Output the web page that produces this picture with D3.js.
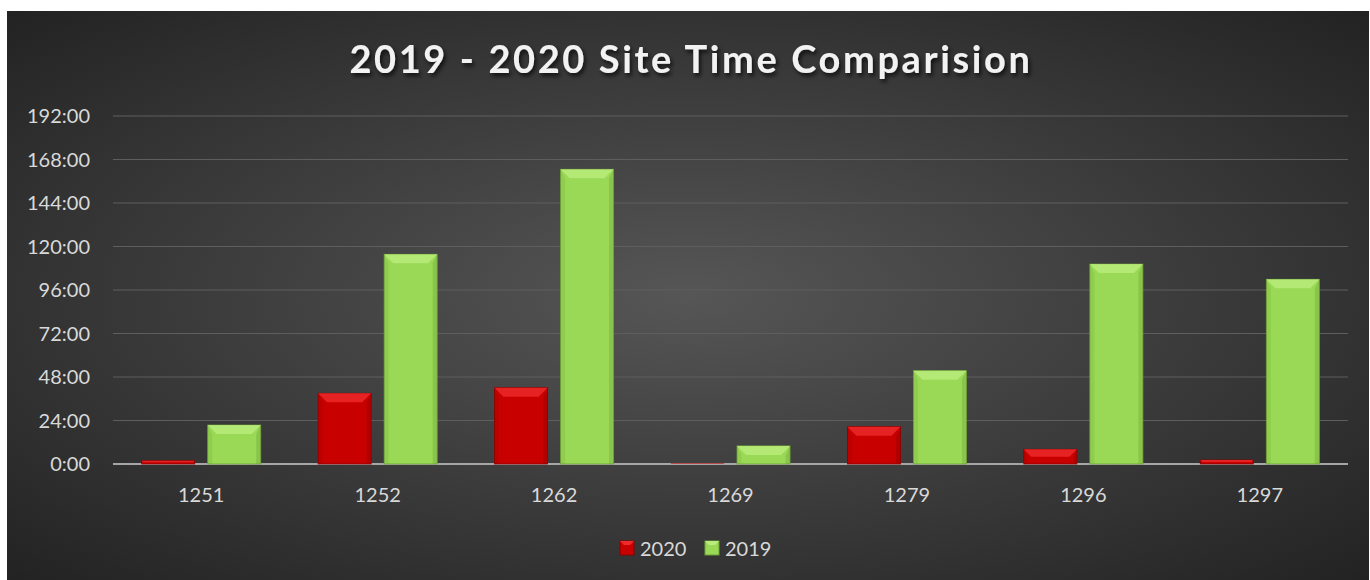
<!DOCTYPE html>
<html>
<head>
<meta charset="utf-8">
<script src="https://cdn.jsdelivr.net/npm/d3@7"></script>
<style>
	html, body { margin: 0; padding: 0; background: #fff; }
	svg { display: block; font-family: Lato, "Noto Sans", sans-serif; }
</style>
</head>
<body>
<svg width="1370" height="580"></svg>
<script>
// site ids and hours per year
const sites = ["1251", "1252", "1262", "1269", "1279", "1296", "1297"];
const hours2020 = [1.8, 39, 42.1, 0.5, 20.6, 8.1, 2.2];
const hours2019 = [21.5, 115.7, 162.6, 10, 51.5, 110.3, 101.9];
const series = ["2020", "2019"];
const yTicks = [0, 24, 48, 72, 96, 120, 144, 168, 192];

const colors = {
	"2020": { base: "#c80000", light: "#ef2a2a", dark: "#8a0000" },
	"2019": { base: "#99d955", light: "#b9ec7c", dark: "#6e9e38" }
};

const svg = d3.select("svg");
const W = 1370, H = 580;

const defs = svg.append("defs");

const bg = defs.append("radialGradient")
	.attr("id", "bg")
	.attr("cx", "50%").attr("cy", "50%").attr("r", "70%");
bg.append("stop").attr("offset", "0%").attr("stop-color", "#565656");
bg.append("stop").attr("offset", "100%").attr("stop-color", "#232323");

const shadow = defs.append("filter").attr("id", "tshadow")
	.attr("x", "-10%").attr("y", "-30%").attr("width", "120%").attr("height", "160%");
shadow.append("feDropShadow")
	.attr("dx", 2).attr("dy", 3).attr("stdDeviation", 2)
	.attr("flood-color", "#000").attr("flood-opacity", 0.7);

svg.append("rect")
	.attr("x", 7).attr("y", 11)
	.attr("width", W - 8).attr("height", H - 11)
	.attr("fill", "url(#bg)");

svg.append("text")
	.attr("x", 691).attr("y", 73)
	.attr("text-anchor", "middle")
	.attr("fill", "#f2f2f2")
	.attr("font-size", 38)
	.attr("font-weight", 700)
	.attr("letter-spacing", 2.6)
	.attr("filter", "url(#tshadow)")
	.text("2019 - 2020 Site Time Comparision");

const x0 = d3.scaleBand(sites, [113, 1348]).paddingInner(0.325).paddingOuter(0.1625);
const x1 = d3.scaleBand(series, [0, x0.bandwidth()]).paddingInner(0.197);
const y = d3.scaleLinear([0, 192], [464, 116]);

// gridlines
svg.append("g")
	.selectAll("line")
	.data(yTicks.filter(d => d > 0))
	.join("line")
	.attr("x1", 113).attr("x2", 1348)
	.attr("y1", d => y(d)).attr("y2", d => y(d))
	.attr("stroke", "#5e5e5e")
	.attr("stroke-width", 1);

// y labels
svg.append("g")
	.selectAll("text")
	.data(yTicks)
	.join("text")
	.attr("x", 90)
	.attr("y", d => y(d) + 7)
	.attr("text-anchor", "end")
	.attr("fill", "#d9d9d9")
	.attr("font-size", 20)
	.text(d => `${d}:00`);

// baseline
svg.append("line")
	.attr("x1", 113).attr("x2", 1348)
	.attr("y1", y(0)).attr("y2", y(0))
	.attr("stroke", "#a6a6a6")
	.attr("stroke-width", 2);

// bars
const rows = sites.map((s, i) => ({ site: s, "2020": hours2020[i], "2019": hours2019[i] }));

const groups = svg.append("g")
	.selectAll("g")
	.data(rows)
	.join("g")
	.attr("transform", d => `translate(${x0(d.site)},0)`);

const bars = groups.selectAll("g")
	.data(d => series.map(k => ({ key: k, value: d[k] })))
	.join("g");

bars.each(function(d) {
	const g = d3.select(this);
	const c = colors[d.key];
	const bx = x1(d.key), bw = x1.bandwidth();
	const top = y(d.value), h = y(0) - top;
	if (h <= 0) return;
	const b = Math.min(9, h / 2);
	g.append("rect")
		.attr("x", bx).attr("y", top)
		.attr("width", bw).attr("height", h)
		.attr("fill", c.base)
		.attr("fill-opacity", h < 2 ? 0.6 : 1)
		.attr("stroke", h < 2 ? "none" : c.dark).attr("stroke-width", 0.8);
	if (h < 2) return;
	// bevel top
	g.append("path")
		.attr("d", `M${bx},${top}L${bx + bw},${top}L${bx + bw - b},${top + b}L${bx + b},${top + b}Z`)
		.attr("fill", c.light).attr("opacity", 0.8);
	// bevel sides
	g.append("path")
		.attr("d", `M${bx},${top}L${bx + b * 0.5},${top + b}L${bx + b * 0.5},${top + h}L${bx},${top + h}Z`)
		.attr("fill", c.dark).attr("opacity", 0.2);
	g.append("path")
		.attr("d", `M${bx + bw},${top}L${bx + bw - b * 0.5},${top + b}L${bx + bw - b * 0.5},${top + h}L${bx + bw},${top + h}Z`)
		.attr("fill", c.dark).attr("opacity", 0.35);
});

// x labels
svg.append("g")
	.selectAll("text")
	.data(sites)
	.join("text")
	.attr("x", d => x0(d) + x0.bandwidth() / 2)
	.attr("y", 502)
	.attr("text-anchor", "middle")
	.attr("fill", "#d9d9d9")
	.attr("font-size", 20)
	.text(d => d);

// legend
const legend = svg.append("g")
	.selectAll("g")
	.data(series)
	.join("g")
	.attr("transform", (d, i) => `translate(${620 + i * 85},541)`);

legend.append("rect")
	.attr("width", 14).attr("height", 14)
	.attr("fill", d => colors[d].base)
	.attr("stroke", d => colors[d].dark);

legend.append("path")
	.attr("d", "M0,0L14,0L10,4L4,4Z")
	.attr("fill", d => colors[d].light);

legend.append("text")
	.attr("x", 20).attr("y", 15)
	.attr("fill", "#d9d9d9")
	.attr("font-size", 20)
	.text(d => d);
</script>
</body>
</html>
